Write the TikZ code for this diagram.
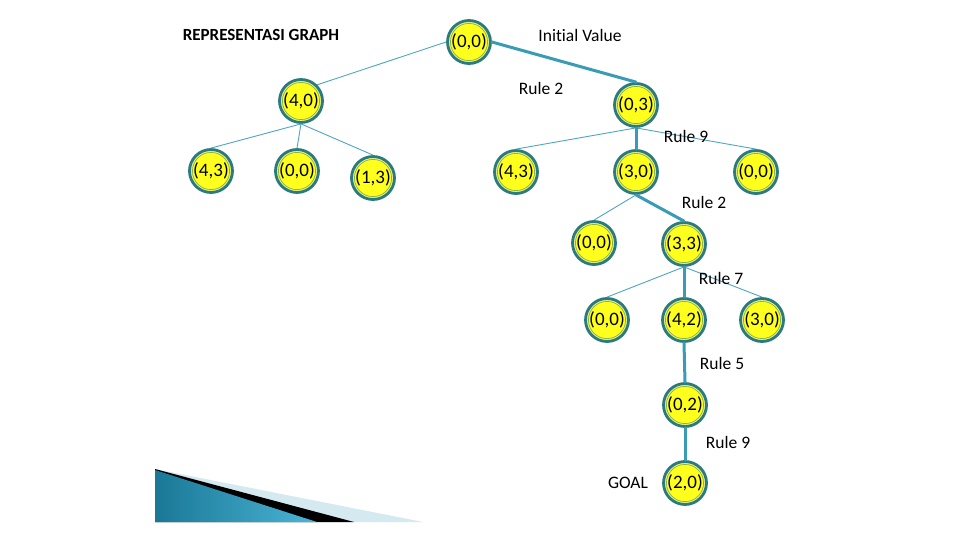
\documentclass[tikz,border=0pt]{standalone}
\usepackage{fontspec}
\setmainfont{Carlito}[Ligatures=NoCommon]
\usepackage{xcolor}
\usepackage{tikz}
\usetikzlibrary{shapes.geometric}
\definecolor{ringteal}{HTML}{2B7B7E}
\definecolor{ringlight}{HTML}{E6EE9A}
\definecolor{ringgreen}{HTML}{8CB43C}
\definecolor{statefill}{HTML}{FFFF1E}
\definecolor{thinedge}{HTML}{4FA6BE}
\definecolor{pathedge}{HTML}{3A9BB5}
\definecolor{wedgedark}{HTML}{1A7896}
\definecolor{wedgelight}{HTML}{4BB4D6}
\definecolor{wedgepale}{HTML}{D5E9F1}
\tikzstyle{state} = [circle,draw=ringteal,line width=2.8pt,fill=statefill,minimum size=43pt,inner sep=0pt,
  font=\fontsize{19}{21}\selectfont,
  path picture={\draw[ringlight,line width=1.2pt] (path picture bounding box.center) circle (19.5pt);
                \draw[ringgreen,line width=0.7pt] (path picture bounding box.center) circle (18.6pt);}]
\tikzstyle{rule} = [font=\fontsize{17.5}{20}\selectfont,inner sep=0pt]
\tikzstyle{branch} = [draw=thinedge,line width=0.9pt]
\tikzstyle{solution} = [draw=pathedge,line width=3pt]

\begin{document}
\begin{tikzpicture}[line cap=round,line join=round,x=1pt,y=-1pt]
                \fill[white] (0,0) rectangle (960,540);
                \useasboundingbox (0,0) rectangle (960,540);
                % corner wedge
                \fill[wedgepale] (155,469) -- (423,522) -- (155,522) -- cycle;
                \fill[black] (155,469) -- (354,522) -- (155,522) -- cycle;
                \shade[left color=wedgedark,right color=wedgelight] (155,470) -- (317,522) -- (155,522) -- cycle;
                % states
                \node[state] (s00) at (469,42) {(0,0)};
                \node[state] (s40) at (301,101) {(4,0)};
                \node[state] (s03) at (636,105) {(0,3)};
                \node[state] (s43a) at (211,171) {(4,3)};
                \node[state] (s00a) at (297,171) {(0,0)};
                \node[state] (s13) at (373,178) {(1,3)};
                \node[state] (s43b) at (516,172) {(4,3)};
                \node[state] (s30a) at (636,172) {(3,0)};
                \node[state] (s00b) at (756,172) {(0,0)};
                \node[state] (s00c) at (594,243) {(0,0)};
                \node[state] (s33) at (684,244) {(3,3)};
                \node[state] (s00d) at (607,320) {(0,0)};
                \node[state] (s42) at (684,320) {(4,2)};
                \node[state] (s30b) at (762,320) {(3,0)};
                \node[state] (s02) at (685,405) {(0,2)};
                \node[state] (s20) at (685,483) {(2,0)};
                % branches
                \draw[branch] (s00.west) -- (s40.north east);
                \draw[branch] (s40.south) -- (s43a.north);
                \draw[branch] (s40.south) -- (s00a.north);
                \draw[branch] (s40.south) -- (s13.north);
                \draw[branch] (s03.south) -- (s43b.north);
                \draw[branch] (s03.south) -- (s00b.north);
                \draw[branch] (s30a.south) -- (s00c.north);
                \draw[branch] (s33.south) -- (s00d.north);
                \draw[branch] (s33.south) -- (s30b.north);
                \draw[solution] (s00.east) -- (s03.north);
                \draw[solution] (s03.south) -- (s30a.north);
                \draw[solution] (s30a.south) -- (s33.north);
                \draw[solution] (s33.south) -- (s42.north);
                \draw[solution] (s42.south) -- (s02.north);
                \draw[solution] (s02.south) -- (s20.north);
                % labels
                \node[font=\bfseries\fontsize{17}{20}\selectfont,inner sep=0pt] (title) at (261,35) {REPRESENTASI GRAPH};
                \node[rule] (init) at (580,35) {Initial Value};
                \node[rule] (r1) at (541,88) {Rule 2};
                \node[rule] (r2) at (686,136) {Rule 9};
                \node[rule] (r3) at (704,202) {Rule 2};
                \node[rule] (r4) at (721,278) {Rule 7};
                \node[rule] (r5) at (722,363) {Rule 5};
                \node[rule] (r6) at (728,442) {Rule 9};
                \node[rule] (goal) at (628,483) {GOAL};
\end{tikzpicture}
\end{document}
